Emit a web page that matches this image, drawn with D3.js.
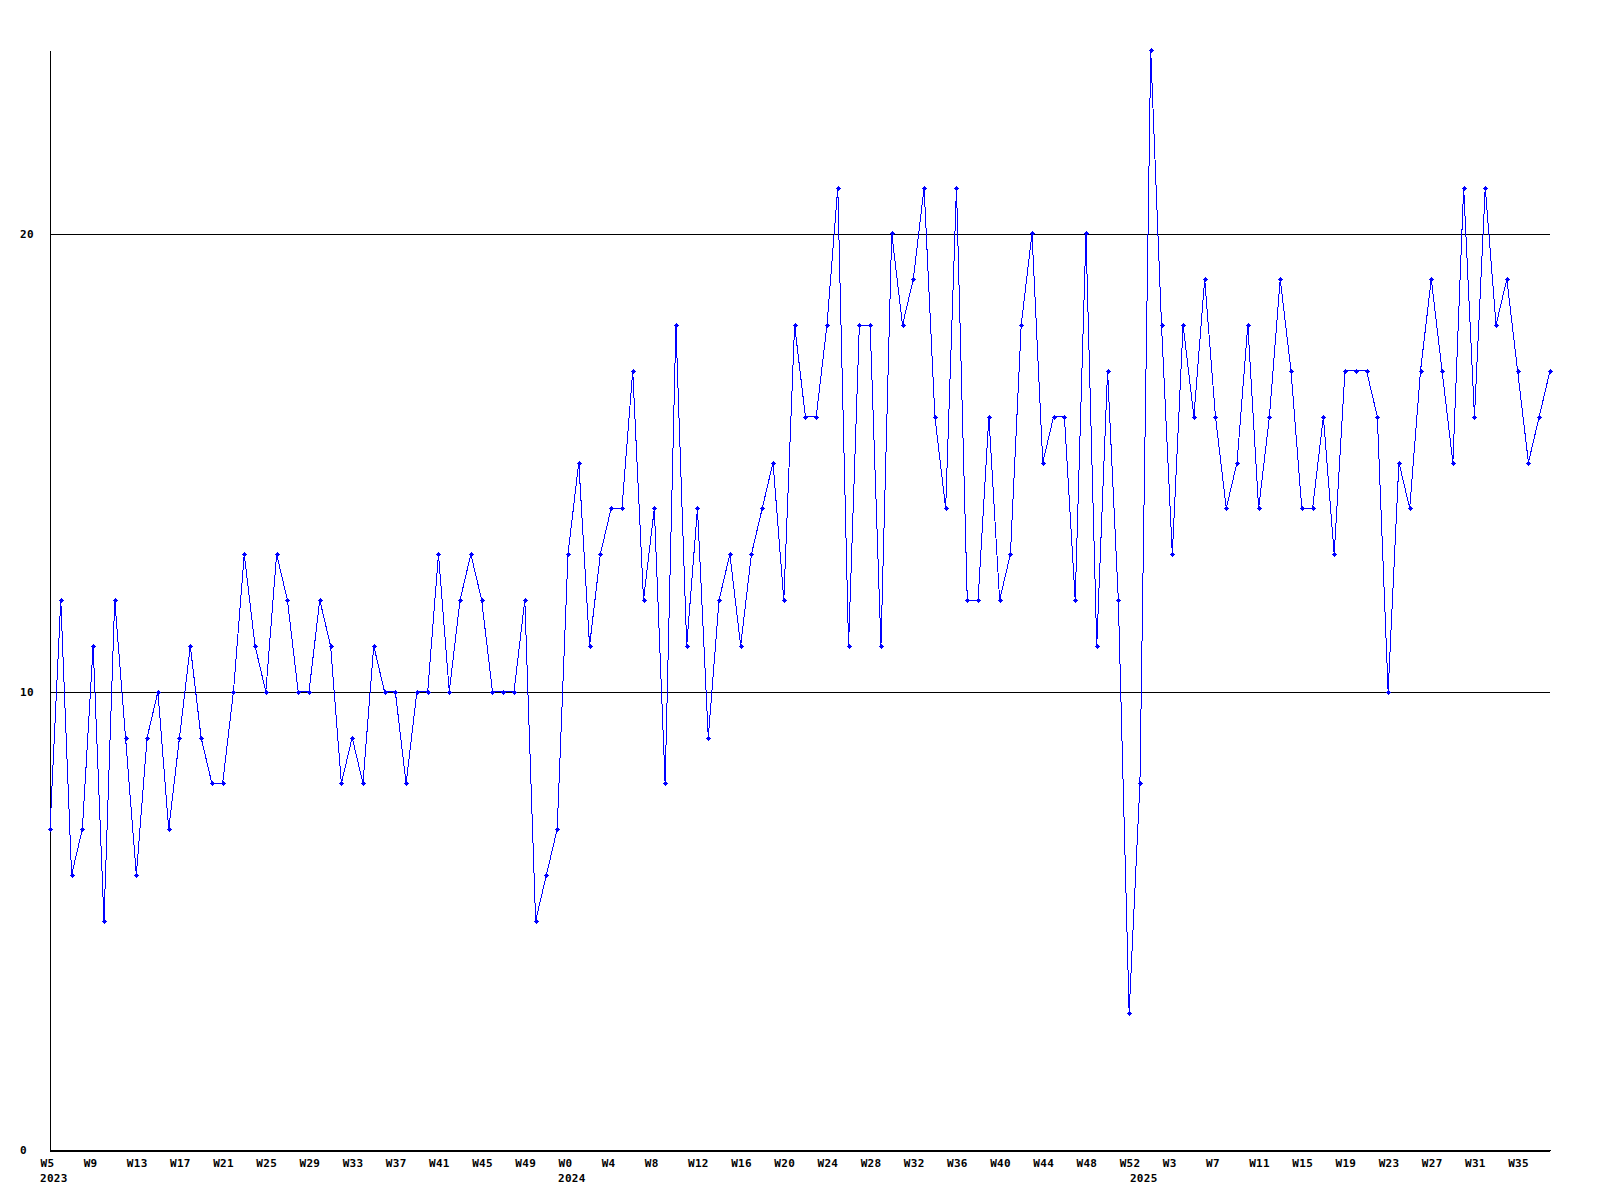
<!DOCTYPE html>
<meta charset="utf-8">
<style>
body { margin: 0; background: #fff; }
text {
  font-family: "DejaVu Sans Mono", monospace;
  font-weight: bold;
  font-size: 11px;
  letter-spacing: 0.3px;
  fill: #000;
}
.grid line, .domain { stroke: #000; shape-rendering: crispEdges; }
</style>
<body>
<script src="https://d3js.org/d3.v7.min.js"></script>
<script>

// weeks covered per year
var years = [2023, 2024, 2025],
    firstWeek = [5, 0, 0],
    lastWeek = [52, 52, 38];

// weekly values, W5 2023 .. W38 2025
var values = [
  7, 12, 6, 7, 11, 5, 12, 9, 6, 9, 10, 7, 9, 11, 9, 8, 8, 10, 13, 11,
  10, 13, 12, 10, 10, 12, 11, 8, 9, 8, 11, 10, 10, 8, 10, 10, 13, 10, 12, 13,
  12, 10, 10, 10, 12, 5, 6, 7,
  13, 15, 11, 13, 14, 14, 17, 12, 14, 8, 18, 11, 14, 9, 12, 13, 11, 13, 14, 15,
  12, 18, 16, 16, 18, 21, 11, 18, 18, 11, 20, 18, 19, 21, 16, 14, 21, 12, 12, 16,
  12, 13, 18, 20, 15, 16, 16, 12, 20, 11, 17, 12, 3,
  8, 24, 18, 13, 18, 16, 19, 16, 14, 15, 18, 14, 16, 19, 17, 14, 14, 16, 13, 17,
  17, 17, 16, 10, 15, 14, 17, 19, 17, 15, 21, 16, 21, 18, 19, 17, 15, 16, 17
];

var yTicks = [0, 10, 20];

var width = 1600,
    height = 1200,
    margin = {top: 50, right: 50, bottom: 50, left: 50};

// build the week categories
var weeks = [];
years.forEach(function(y, k) {
  for (var w = firstWeek[k]; w <= lastWeek[k]; w++) weeks.push({year: y, week: w});
});

var data = values.map(function(v, i) { return {i: i, v: v, year: weeks[i].year, week: weeks[i].week}; });

var x = d3.scaleLinear()
    .domain([0, data.length - 1])
    .range([margin.left, width - margin.right]);

var y = d3.scaleLinear()
    .domain([0, 24])
    .range([height - margin.bottom, margin.top]);

var svg = d3.select("body").append("svg")
    .attr("width", width)
    .attr("height", height);

// y axis with gridlines
var yAxis = svg.append("g")
    .attr("class", "grid")
    .attr("transform", "translate(" + margin.left + ",0)")
    .call(d3.axisLeft(y)
      .tickValues(yTicks)
      .tickSizeInner(-(width - margin.left - margin.right))
      .tickSizeOuter(0)
      .tickFormat(d3.format("d")));
yAxis.selectAll("text")
    .attr("text-anchor", "start")
    .attr("x", -30)
    .attr("dy", "0.35em");
yAxis.selectAll(".tick line").attr("transform", "translate(0,0.5)");

// x axis
var tickIdx = data.filter(function(d) { return d.i % 4 === 0; }).map(function(d) { return d.i; });
var xAxis = svg.append("g")
    .attr("transform", "translate(0," + (height - margin.bottom) + ")")
    .call(d3.axisBottom(x)
      .tickValues(tickIdx)
      .tickSize(0)
      .tickFormat(function(i) { return "W" + data[i].week; }));
xAxis.selectAll("text")
    .attr("text-anchor", "start")
    .attr("x", -10)
    .attr("y", 16.5)
    .attr("dy", 0);

// year labels at first point of each year
var yearStart = data.filter(function(d, i) { return i === 0 || d.year !== data[i - 1].year; });
svg.append("g").selectAll("text")
    .data(yearStart)
  .enter().append("text")
    .attr("x", function(d) { return x(d.i) - 10; })
    .attr("y", height - margin.bottom + 31.5)
    .text(function(d) { return d.year; });

// series
var line = d3.line()
    .x(function(d) { return x(d.i); })
    .y(function(d) { return y(d.v); });

svg.append("path")
    .datum(data)
    .attr("fill", "none")
    .attr("stroke", "#0000ff")
    .attr("stroke-width", 1)
    .attr("shape-rendering", "crispEdges")
    .attr("d", line);

svg.append("g").selectAll("path")
    .data(data)
  .enter().append("path")
    .attr("transform", function(d) { return "translate(" + Math.round(x(d.i)) + "," + Math.round(y(d.v)) + ")"; })
    .attr("fill", "#0000ff")
    .attr("shape-rendering", "crispEdges")
    .attr("d", "M-2,0h5v1h-5z M0,-2h1v5h-1z M-1,-1h3v3h-3z");

</script>
